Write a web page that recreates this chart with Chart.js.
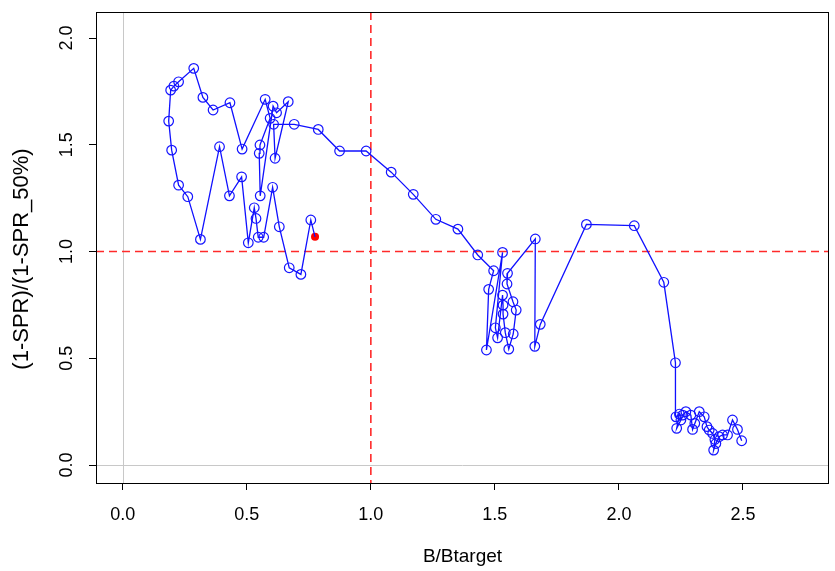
<!DOCTYPE html>
<html lang="en">
<head>
  <meta charset="UTF-8">
  <title>Phase plot</title>
  <style>
    body { margin: 0; background: #fff; }
  </style>
</head>
<body>

  <canvas id="myChart" width="835" height="571"></canvas>

  <script src="https://cdn.jsdelivr.net/npm/chart.js"></script>
  <script>
    // B/Btarget, year by year (last value = current year, red dot)
    const bRatio = [
      2.495, 2.478, 2.458, 2.438, 2.418, 2.404, 2.391, 2.382, 2.387, 2.378,
      2.364, 2.355, 2.344, 2.324, 2.306, 2.297, 2.290, 2.270, 2.257, 2.250,
      2.233, 2.244, 2.230, 2.228, 2.181, 2.062, 1.869, 1.683, 1.661, 1.663,
      1.551, 1.549, 1.573, 1.586, 1.574, 1.556, 1.542, 1.533, 1.533, 1.531,
      1.511, 1.502, 1.531, 1.466, 1.475, 1.495, 1.431, 1.351, 1.262, 1.171,
      1.082, 0.981, 0.874, 0.788, 0.691, 0.608, 0.614, 0.667, 0.620, 0.606,
      0.554, 0.550, 0.553, 0.594, 0.574, 0.481, 0.432, 0.364, 0.323, 0.286,
      0.225, 0.206, 0.193, 0.185, 0.197, 0.225, 0.262, 0.313, 0.390, 0.430,
      0.479, 0.506, 0.530, 0.537, 0.546, 0.568, 0.604, 0.631, 0.671, 0.718,
      0.758, 0.775
    ];
    // (1-SPR)/(1-SPR_50%)
    const sprRatio = [
      0.114, 0.167, 0.211, 0.141, 0.141, 0.133, 0.101, 0.070, 0.120, 0.148,
      0.164, 0.180, 0.226, 0.250, 0.195, 0.167, 0.234, 0.250, 0.234, 0.211,
      0.172, 0.239, 0.226, 0.479, 0.856, 1.121, 1.127, 0.659, 0.556, 1.059,
      0.898, 0.848, 0.765, 0.726, 0.614, 0.543, 0.620, 0.707, 0.749, 0.796,
      0.596, 0.643, 0.996, 0.539, 0.823, 0.910, 0.984, 1.105, 1.151, 1.268,
      1.372, 1.471, 1.471, 1.572, 1.596, 1.596, 1.437, 1.702, 1.650, 1.681,
      1.261, 1.460, 1.499, 1.624, 1.713, 1.480, 1.697, 1.663, 1.722, 1.858,
      1.795, 1.775, 1.756, 1.611, 1.475, 1.311, 1.257, 1.057, 1.491, 1.261,
      1.350, 1.041, 1.205, 1.155, 1.067, 1.067, 1.301, 1.116, 0.924, 0.893,
      1.148, 1.069
    ];

    const xTicks = [0, 0.5, 1, 1.5, 2, 2.5];
    const yTicks = [0, 0.5, 1, 1.5, 2];
    const targetX = 1.0;
    const targetY = 1.0;
    const yTitle = '(1-SPR)/(1-SPR_50%)';

    const FONT = "'Liberation Sans', Arial, sans-serif";
    const last = bRatio.length - 1;
    const pts = bRatio.map((b, i) => ({ x: b, y: sprRatio[i] }));

    const px = (v) => Math.round(v) + 0.5;

    const refLines = {
      id: 'refLines',
      beforeDatasetsDraw: (chart) => {
        const ctx = chart.ctx;
        const a = chart.chartArea;
        const xs = chart.scales.x;
        const ys = chart.scales.y;
        ctx.save();
        ctx.lineWidth = 1;
        // grey zero lines
        ctx.strokeStyle = '#c8c8c8';
        ctx.beginPath();
        ctx.moveTo(px(xs.getPixelForValue(0)), a.top);
        ctx.lineTo(px(xs.getPixelForValue(0)), a.bottom);
        ctx.moveTo(a.left, px(ys.getPixelForValue(0)));
        ctx.lineTo(a.right, px(ys.getPixelForValue(0)));
        ctx.stroke();
        // red dashed target lines
        ctx.strokeStyle = '#ff2a2a';
        ctx.lineWidth = 1.6;
        ctx.setLineDash([8, 5]);
        ctx.beginPath();
        ctx.moveTo(xs.getPixelForValue(targetX), a.top);
        ctx.lineTo(xs.getPixelForValue(targetX), a.bottom);
        ctx.moveTo(a.left, ys.getPixelForValue(targetY));
        ctx.lineTo(a.right, ys.getPixelForValue(targetY));
        ctx.stroke();
        ctx.restore();
      },
      afterDraw: (chart) => {
        const ctx = chart.ctx;
        const a = chart.chartArea;
        const ys = chart.scales.y;
        ctx.save();
        // box round the plot
        ctx.strokeStyle = '#000';
        ctx.lineWidth = 1;
        ctx.strokeRect(Math.round(a.left) + 0.5, Math.round(a.top) + 0.5,
          Math.round(a.right - a.left) - 1, Math.round(a.bottom - a.top));
        // y tick labels, rotated like R
        ctx.fillStyle = '#000';
        ctx.font = '18px ' + FONT;
        ctx.textAlign = 'center';
        ctx.textBaseline = 'middle';
        ys.ticks.forEach(t => {
          const y = ys.getPixelForValue(t.value);
          ctx.save();
          ctx.translate(67, y);
          ctx.rotate(-Math.PI / 2);
          ctx.fillText(t.value.toFixed(1), 0, 0);
          ctx.restore();
        });
        // y axis title
        ctx.font = '22px ' + FONT;
        ctx.save();
        ctx.translate(22, 259);
        ctx.rotate(-Math.PI / 2);
        ctx.fillText(yTitle, 0, 0);
        ctx.restore();
        ctx.restore();
      }
    };

    const myChart = new Chart(document.getElementById('myChart').getContext('2d'), {
      type: 'scatter',
      data: {
        datasets: [
          {
            data: pts,
            showLine: true,
            borderColor: '#1010ff',
            borderWidth: 1.3,
            backgroundColor: 'rgba(0,0,0,0)',
            pointBorderColor: '#1515ff',
            pointBorderWidth: 1.2,
            pointRadius: (c) => c.dataIndex === last ? 0 : 4.8,
            pointStyle: 'circle',
            tension: 0
          },
          {
            data: [pts[last]],
            pointRadius: 4,
            pointBackgroundColor: '#ff0000',
            pointBorderColor: '#ff0000',
            pointBorderWidth: 0,
            showLine: false
          }
        ]
      },
      options: {
        responsive: false,
        animation: false,
        layout: { padding: { top: 12, right: 0, left: 0, bottom: 0 } },
        plugins: {
          legend: { display: false },
          tooltip: { enabled: false }
        },
        scales: {
          x: {
            type: 'linear',
            min: -0.108,
            max: 2.847,
            afterBuildTicks: (s) => { s.ticks = xTicks.map(v => ({ value: v })); },
            afterFit: (s) => { s.height = 88; s.paddingLeft = 0; s.paddingRight = 0; },
            grid: { display: true, drawOnChartArea: false, drawTicks: true, tickLength: 7, color: '#000' },
            border: { display: false },
            ticks: {
              color: '#000',
              padding: 14,
              maxRotation: 0,
              font: { family: FONT, size: 18 },
              callback: (v) => v.toFixed(1)
            },
            title: {
              display: true,
              text: 'B/Btarget',
              color: '#000',
              font: { family: FONT, size: 19 },
              padding: { top: 0, bottom: 3 }
            }
          },
          y: {
            type: 'linear',
            min: -0.084,
            max: 2.122,
            afterBuildTicks: (s) => { s.ticks = yTicks.map(v => ({ value: v })); },
            afterFit: (s) => { s.width = 96; s.paddingTop = 0; s.paddingBottom = 0; },
            grid: { display: true, drawOnChartArea: false, drawTicks: true, tickLength: 7, color: '#000' },
            border: { display: false },
            ticks: { display: false },
            title: { display: false }
          }
        }
      },
      plugins: [refLines]
    });
  </script>

</body>
</html>
